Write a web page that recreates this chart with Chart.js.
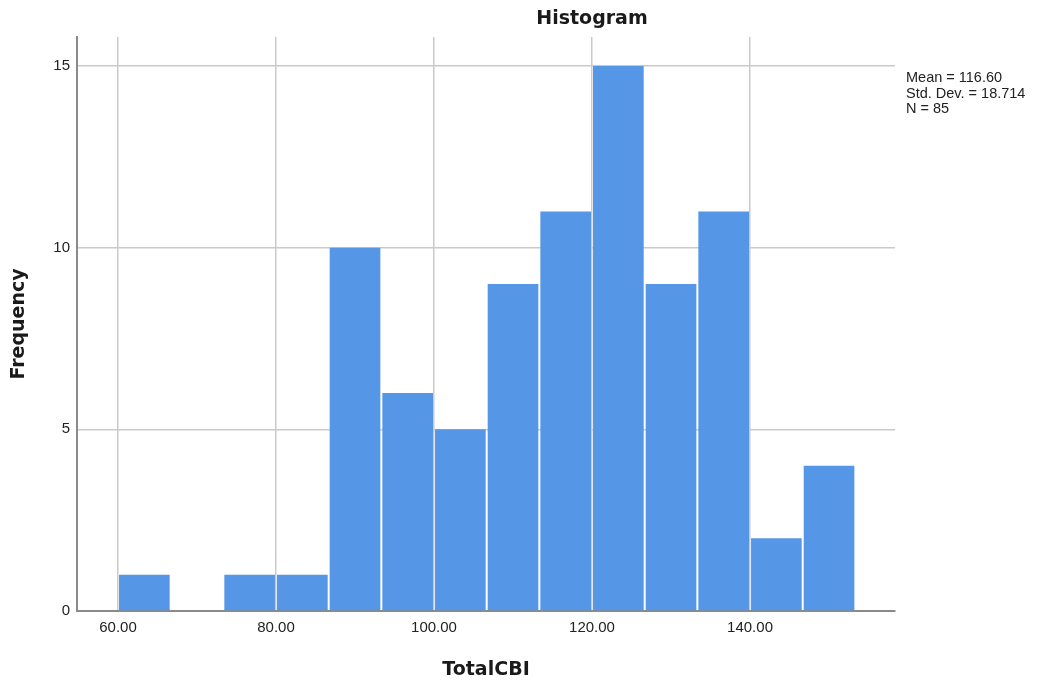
<!DOCTYPE html>
<html>
<head>
<meta charset="utf-8">
<script src="https://cdn.jsdelivr.net/npm/chart.js@4/dist/chart.umd.min.js"></script>
<style>
  html, body { margin: 0; padding: 0; background: #ffffff; }
  #wrap { position: relative; width: 1046px; height: 686px; }
</style>
</head>
<body>
<div id="wrap"><canvas id="c" width="1046" height="686"></canvas></div>
<script>
// ---- data ----
const chartTitle = "Histogram";
const xAxisTitle = "TotalCBI";
const yAxisTitle = "Frequency";
const binEdges = [60, 66.67, 73.33, 80, 86.67, 93.33, 100, 106.67, 113.33, 120, 126.67, 133.33, 140, 146.67, 153.33];
const frequencies = [1, 0, 1, 1, 10, 6, 5, 9, 11, 15, 9, 11, 2, 4];
const xTickValues = [60, 80, 100, 120, 140];
const yTickValues = [0, 5, 10, 15];
const statsLines = ["Mean = 116.60", "Std. Dev. = 18.714", "N = 85"];

const barData = frequencies.map((f, i) => ({ x: (binEdges[i] + binEdges[i + 1]) / 2, y: f }));

const annotate = {
  id: 'annotate',
  afterDraw(chart) {
    const ctx = chart.ctx;
    ctx.save();
    ctx.fillStyle = '#1a1a1a';
    ctx.font = 'bold 19px "DejaVu Sans"';
    ctx.textAlign = 'center';
    ctx.textBaseline = 'middle';
    ctx.fillText(chartTitle, 592, 19);
    ctx.font = '14.5px "Liberation Sans"';
    ctx.textAlign = 'left';
    ctx.textBaseline = 'alphabetic';
    ctx.fillStyle = '#222';
    statsLines.forEach((s, i) => ctx.fillText(s, 906, 82 + i * 15.5));
    ctx.restore();
  }
};

new Chart(document.getElementById('c'), {
  type: 'bar',
  data: {
    datasets: [{
      data: barData,
      backgroundColor: '#5596e6',
      borderWidth: 0,
      barPercentage: 0.962,
      categoryPercentage: 1.0
    }]
  },
  options: {
    responsive: false,
    animation: false,
    layout: { padding: { left: 0, top: 37, right: 151, bottom: 0 } },
    plugins: { legend: { display: false }, tooltip: { enabled: false }, title: { display: false } },
    scales: {
      x: {
        type: 'linear',
        min: 54.81,
        max: 158.35,
        offset: false,
        afterFit(s) { s.height = 75; },
        afterBuildTicks(s) { s.ticks = xTickValues.map(v => ({ value: v })); },
        ticks: {
          color: '#222',
          font: { family: '"Liberation Sans"', size: 15 },
          padding: 8,
          maxRotation: 0,
          autoSkip: false,
          callback: v => v.toFixed(2)
        },
        grid: { color: '#cacaca', lineWidth: 1.5, drawTicks: false, offset: false },
        border: { color: '#8a8a8a', width: 2 },
        title: {
          display: true,
          text: xAxisTitle,
          color: '#1a1a1a',
          font: { family: '"DejaVu Sans"', size: 19, weight: 'bold' },
          padding: { top: 0, bottom: 5 }
        }
      },
      y: {
        type: 'linear',
        min: 0,
        max: 15.8,
        afterFit(s) { s.width = 77; },
        afterBuildTicks(s) { s.ticks = yTickValues.map(v => ({ value: v })); },
        ticks: {
          color: '#222',
          font: { family: '"Liberation Sans"', size: 15 },
          padding: 7
        },
        grid: { color: '#cacaca', lineWidth: 1.5, drawTicks: false },
        border: { color: '#8a8a8a', width: 2 },
        title: {
          display: true,
          text: yAxisTitle,
          color: '#1a1a1a',
          font: { family: '"DejaVu Sans"', size: 19, weight: 'bold' },
          padding: { top: 8, bottom: 0 }
        }
      }
    }
  },
  plugins: [annotate]
});
</script>
</body>
</html>
